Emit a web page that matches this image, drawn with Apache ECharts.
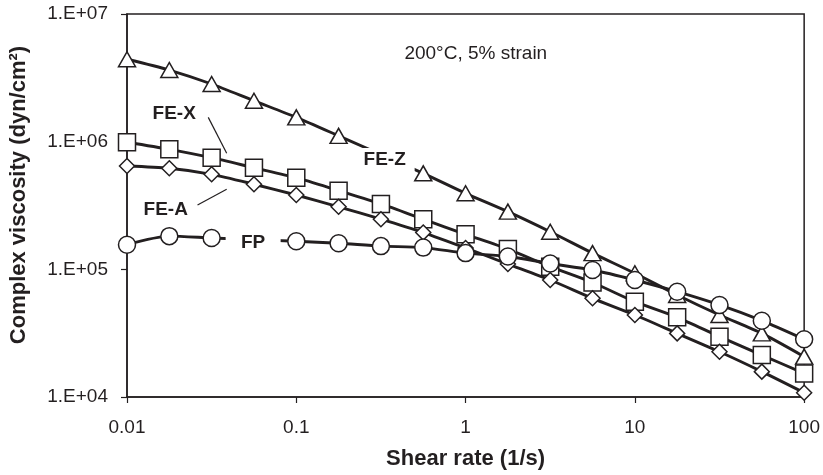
<!DOCTYPE html>
<html>
<head>
<meta charset="utf-8">
<script src="https://cdn.jsdelivr.net/npm/echarts@6/dist/echarts.min.js"></script>
<style>
  html, body { margin: 0; padding: 0; background: #fff; }
  #chart { width: 823px; height: 475px; }
</style>
</head>
<body>
<div id="chart"></div>
<script>
// ---- data ----
const shearRate = [0.01, 0.01778, 0.03162, 0.05623, 0.1, 0.1778, 0.3162, 0.5623, 1, 1.778, 3.162, 5.623, 10, 17.78, 31.62, 56.23, 100];
const feZ = [4.42e6, 3.64e6, 2.83e6, 2.09e6, 1.55e6, 1.11e6, null, 5.65e5, 3.94e5, 2.83e5, 1.97e5, 1.34e5, 9.31e4, 6.30e4, 4.39e4, 3.15e4, 2.07e4];
const feX = [9.89e5, 8.71e5, 7.49e5, 6.25e5, 5.22e5, 4.13e5, 3.25e5, 2.47e5, 1.88e5, 1.44e5, 1.05e5, 7.89e4, 5.58e4, 4.21e4, 2.97e4, 2.13e4, 1.53e4];
const feA = [6.45e5, 6.19e5, 5.55e5, 4.64e5, 3.82e5, 3.09e5, 2.47e5, 1.94e5, 1.47e5, 1.10e5, 8.25e4, 5.93e4, 4.39e4, 3.15e4, 2.26e4, 1.58e4, 1.08e4];
const fp  = [1.56e5, 1.82e5, 1.76e5, null, 1.66e5, 1.60e5, 1.52e5, 1.48e5, 1.34e5, 1.26e5, 1.11e5, 9.88e4, 8.25e4, 6.68e4, 5.26e4, 3.96e4, 2.83e4];

const xTickLabels = {'-2': '0.01', '-1': '0.1', '0': '1', '1': '10', '2': '100'};
const yTickLabels = {'4': '1.E+04', '5': '1.E+05', '6': '1.E+06', '7': '1.E+07'};

// annotation anchors in data coordinates
const labelFEX = [0.0190, 1.667e6];
const labelFEA = [0.01694, 2.95e5];
const labelFEZ = [0.3327, 7.18e5];
const labelFP  = [0.0556, 1.617e5];
const labelCond = [1.149, 4.92e6];
const leaderFEX = [[0.0302, 1.55e6], [0.0388, 8.11e5]];
const leaderFEA = [[0.0261, 3.19e5], [0.0388, 4.24e5]];

// ---- chart ----
const FONT = "'Liberation Sans', Arial, Helvetica, sans-serif";
const INK = '#231f20';
const pair = (ys) => shearRate.map((x, i) => [x, ys[i]]);

function textPoint(coord, text, bold, w, h, fill) {
  return {
    coord: coord,
    symbol: 'rect',
    symbolSize: [w, h],
    itemStyle: { color: fill },
    label: {
      show: true, position: 'inside', formatter: text,
      color: INK, fontFamily: FONT, fontSize: 19,
      fontWeight: bold ? 'bold' : 'normal'
    }
  };
}

function lineSeries(name, ys, symbol, size, extra) {
  return Object.assign({
    name: name,
    type: 'line',
    data: pair(ys),
    connectNulls: true,
    smooth: 0.25,
    clip: false,
    symbol: symbol,
    symbolSize: size,
    showAllSymbol: true,
    lineStyle: { color: INK, width: 2.9 },
    itemStyle: { color: '#fff', borderColor: INK, borderWidth: 1.5 },
    emphasis: { disabled: true },
    animation: false
  }, extra || {});
}

const chart = echarts.init(document.getElementById('chart'), null, { renderer: 'canvas' });
chart.setOption({
  backgroundColor: '#fff',
  animation: false,
  grid: { left: 127, right: 18, top: 14, bottom: 78, show: true, borderColor: INK, borderWidth: 1.5, backgroundColor: 'transparent' },
  xAxis: {
    type: 'log', logBase: 10, min: 0.01, max: 100,
    name: 'Shear rate (1/s)', nameLocation: 'middle', nameGap: 51,
    nameTextStyle: { fontFamily: FONT, fontSize: 22, fontWeight: 'bold', color: INK },
    axisLine: { show: true, lineStyle: { color: INK, width: 1.5 } },
    axisTick: { show: true, inside: false, length: 6, lineStyle: { color: INK, width: 1.2 } },
    minorTick: { show: false },
    splitLine: { show: false },
    axisLabel: {
      margin: 21, fontFamily: FONT, fontSize: 19, color: INK,
      formatter: (v) => xTickLabels[String(Math.round(Math.log10(v)))] || ''
    }
  },
  yAxis: {
    type: 'log', logBase: 10, min: 1e4, max: 1e7,
    name: 'Complex viscosity (dyn/cm²)', nameLocation: 'middle', nameGap: 97,
    nameTextStyle: { fontFamily: FONT, fontSize: 22, fontWeight: 'bold', color: INK, padding: [0, 0, 0, 21] },
    axisLine: { show: true, lineStyle: { color: INK, width: 1.5 } },
    axisTick: { show: true, inside: false, length: 6, lineStyle: { color: INK, width: 1.2 } },
    minorTick: { show: false },
    splitLine: { show: false },
    axisLabel: {
      margin: 19, fontFamily: FONT, fontSize: 19, color: INK,
      formatter: (v) => yTickLabels[String(Math.round(Math.log10(v)))] || ''
    }
  },
  series: [
    lineSeries('FE-Z', feZ, 'triangle', [17, 15], {
      markPoint: {
        silent: true, animation: false, z: 5,
        data: [
          textPoint(labelFEZ, 'FE-Z', true, 60, 24, '#fff'),
          textPoint(labelCond, '200°C, 5% strain', false, 10, 10, 'rgba(0,0,0,0)')
        ]
      }
    }),
    lineSeries('FE-X', feX, 'rect', 17, {
      markPoint: {
        silent: true, animation: false,
        data: [textPoint(labelFEX, 'FE-X', true, 10, 10, 'rgba(0,0,0,0)')]
      },
      markLine: {
        silent: true, animation: false, symbol: ['none', 'none'],
        lineStyle: { color: INK, width: 1.2, type: 'solid' },
        label: { show: false },
        data: [[{ coord: leaderFEX[0] }, { coord: leaderFEX[1] }]]
      }
    }),
    lineSeries('FE-A', feA, 'diamond', 15, {
      markPoint: {
        silent: true, animation: false,
        data: [textPoint(labelFEA, 'FE-A', true, 10, 10, 'rgba(0,0,0,0)')]
      },
      markLine: {
        silent: true, animation: false, symbol: ['none', 'none'],
        lineStyle: { color: INK, width: 1.2, type: 'solid' },
        label: { show: false },
        data: [[{ coord: leaderFEA[0] }, { coord: leaderFEA[1] }]]
      }
    }),
    lineSeries('FP', fp, 'circle', 17, {
      markPoint: {
        silent: true, animation: false, z: 5,
        data: [textPoint(labelFP, 'FP', true, 55, 22, '#fff')]
      }
    })
  ]
});
</script>
</body>
</html>
